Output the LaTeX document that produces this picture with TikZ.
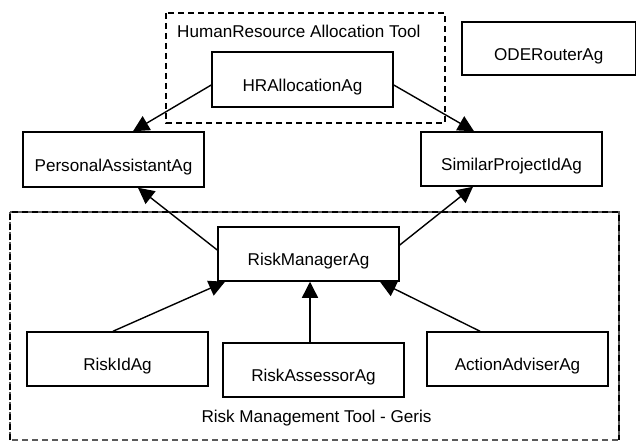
\documentclass[tikz,border=0pt]{standalone}
\usepackage{fontspec}
\setmainfont{Liberation Sans}
\usetikzlibrary{arrows.meta}
\begin{document}
\begin{tikzpicture}[x=1pt,y=-1pt,
  agent/.style={draw,line width=1.5pt,inner sep=0pt,
    text height=23.2pt,text depth=0pt,
    minimum width=181pt,minimum height=54pt,
    font=\fontsize{17.1}{20}\selectfont},
  toolframe/.style={draw,line width=1.3pt,dash pattern=on 6pt off 4pt},
  caption/.style={inner sep=0pt,anchor=base,font=\fontsize{17.1}{20}\selectfont},
  link/.style={line width=1.4pt,-{Triangle[width=16pt,length=16pt]}}]
\useasboundingbox (0,0) rectangle (637,441);

% tool boundaries
\draw[toolframe] (166,13) rectangle (445,123);
\draw[toolframe,draw=black!65] (10,212) rectangle (619,440);
\draw[toolframe] (10,440) |- (619,212) -- (619,440);
\node[caption,anchor=base west] (hrtool) at (177,38) {HumanResource Allocation Tool};
\node[caption] (rmtool) at (316.5,422) {Risk Management Tool - Geris};

% agents
\node[agent,minimum height=55pt] (hr)  at (302.5,79.5) {HRAllocationAg};
\node[agent,minimum width=173.5pt,minimum height=53pt] (ode) at (548.75,48.5) {ODERouterAg};
\node[agent,minimum height=55pt] (pa)  at (113.5,159.5) {PersonalAssistantAg};
\node[agent] (sp)  at (511.5,159) {SimilarProjectIdAg};
\node[agent] (rm)  at (308.5,254) {RiskManagerAg};
\node[agent] (rid) at (117.5,359) {RiskIdAg};
\node[agent] (ra)  at (313.5,370) {RiskAssessorAg};
\node[agent] (aa)  at (517.5,359) {ActionAdviserAg};

% connectors
\draw[link] ([yshift=-5.5pt]hr.west) -- ([xshift=19.5pt]pa.north);
\draw[link] ([yshift=-5.5pt]hr.east) -- ([xshift=-37.5pt]sp.north);
\draw[link] ([yshift=4pt]rm.west) -- ([xshift=24.5pt]pa.south);
\draw[link] ([yshift=9pt]rm.east) -- ([xshift=-38.5pt]sp.south);
\draw[link] ([xshift=-4.5pt]rid.north) -- ([xshift=-83.5pt]rm.south);
\draw[link] ([xshift=-3.5pt]ra.north) -- ([xshift=1.5pt]rm.south);
\draw[link] ([xshift=-37.5pt]aa.north) -- ([xshift=71.5pt]rm.south);
\end{tikzpicture}
\end{document}
